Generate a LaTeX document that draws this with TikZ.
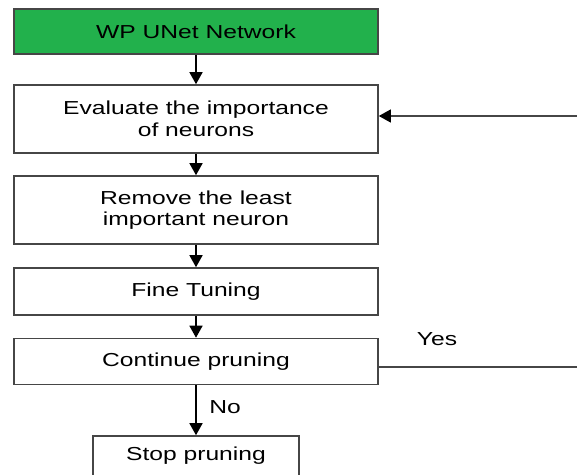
\documentclass[tikz,border=0pt]{standalone}
\usepackage{fontspec}
\setmainfont{Liberation Sans}[FakeStretch=1.31]
\usetikzlibrary{arrows.meta}
\definecolor{boxgreen}{RGB}{34,177,76}
\definecolor{edge}{RGB}{70,70,70}
\tikzset{
  stepbox/.style={draw=edge, line width=1.6pt, fill=white, rectangle, inner sep=0pt,
    align=center, font=\fontsize{18.8}{21.5}\selectfont},
  arr/.style={draw=black, line width=1.5pt, -{Triangle[width=13pt,length=12pt,color=black,fill=black]}},
  lbl/.style={font=\fontsize{18.8}{21.5}\selectfont, inner sep=0pt},
}
\begin{document}
\begin{tikzpicture}[x=1pt,y=-1pt]
\useasboundingbox[fill=white] (0,0) rectangle (577,474);
\clip (0,0) rectangle (577,474);
\node[stepbox, fill=boxgreen, minimum width=364pt, minimum height=45pt] (b1) at (196,31.5) {WP UNet Network};
\node[stepbox, minimum width=364pt, minimum height=68pt] (b2) at (196,119) {Evaluate the importance\\of neurons};
\node[stepbox, minimum width=364pt, minimum height=68pt] (b3) at (196,210) {Remove the least\\important neuron};
\node[stepbox, minimum width=364pt, minimum height=47pt] (b4) at (196,291.5) {Fine Tuning};
\node[stepbox, minimum width=364pt, minimum height=46pt] (b5) at (196,361.5) {Continue pruning};
\node[stepbox, minimum width=206pt, minimum height=40pt] (b6) at (196,456) {Stop pruning};
\draw[arr] (b1) -- (b2);
\draw[arr] (b2) -- (b3);
\draw[arr] (b3) -- (b4);
\draw[arr] (b4) -- (b5);
\draw[arr] (b5) -- (b6);
\coordinate (r1) at (580,116);
\coordinate (r2) at (580,367);
\draw[arr, draw=edge, line width=1.2pt] (r1) -- (r1 -| b2.east);
\draw[draw=edge, line width=1.2pt] (r2 -| b5.east) -- (r2);
\node[lbl] (yes) at (437,339) {Yes};
\node[lbl] (no) at (225,407) {No};
\end{tikzpicture}
\end{document}
